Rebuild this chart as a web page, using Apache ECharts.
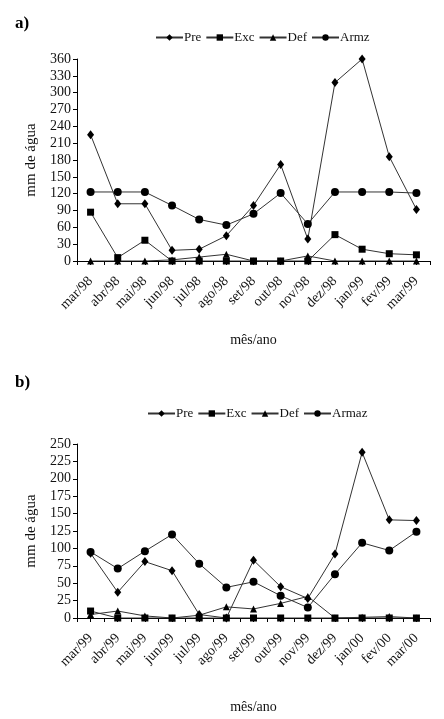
<!DOCTYPE html>
<html>
<head>
<meta charset="utf-8">
<script src="https://cdn.jsdelivr.net/npm/echarts@6/dist/echarts.min.js"></script>
<style>
  html, body { margin: 0; padding: 0; background: #fff; }
  #chart1 { width: 444px; height: 719px; }
</style>
</head>
<body>
<div id="chart1"></div>
<script>
// meses dos dois periodos
var mesesA = ['mar/98', 'abr/98', 'mai/98', 'jun/98', 'jul/98', 'ago/98', 'set/98', 'out/98', 'nov/98', 'dez/98', 'jan/99', 'fev/99', 'mar/99'];
var mesesB = ['mar/99', 'abr/99', 'mai/99', 'jun/99', 'jul/99', 'ago/99', 'set/99', 'out/99', 'nov/99', 'dez/99', 'jan/00', 'fev/00', 'mar/00'];

// a) 1998/99
var preA = [225, 102, 102, 19, 21, 45, 99, 172, 39, 318, 360, 186, 92];
var excA = [87, 6, 37, 0, 0, 0, 0, 0, 0, 47, 21, 13, 11];
var defA = [0, 0, 0, 2, 7, 12, 0, 0, 9, 0, 0, 0, 0];
var armzA = [123, 123, 123, 99, 74, 64, 84, 121, 66, 123, 123, 123, 121];

// b) 1999/00
var preB = [93, 37, 81, 68, 5, 0, 83, 45, 28, 92, 238, 141, 140];
var excB = [10, 0, 0, 0, 0, 0, 0, 0, 0, 0, 0, 0, 0];
var defB = [5, 10, 3, 0, 4, 16, 13, 21, 31, 0, 1, 2, 0];
var armazB = [95, 71, 96, 120, 78, 44, 52, 32, 15, 63, 108, 97, 124];

var fonte = 'Liberation Serif';
var myChart = echarts.init(document.getElementById('chart1'));

function serie(nome, dados, simbolo, tam, grid) {
    return {
        name: nome,
        type: 'line',
        xAxisIndex: grid * 2,
        yAxisIndex: grid,
        data: dados,
        symbol: simbolo,
        symbolSize: tam,
        showAllSymbol: true,
        lineStyle: { color: '#333', width: 1 },
        itemStyle: { color: '#000' },
        z: 3
    };
}

function eixoX(dados, grid, gapNome) {
    return {
        type: 'category',
        gridIndex: grid,
        data: dados,
        boundaryGap: true,
        name: 'mês/ano',
        nameLocation: 'middle',
        nameGap: gapNome,
        nameTextStyle: { fontFamily: fonte, fontSize: 14, color: '#111' },
        axisLine: { lineStyle: { color: '#000', width: 1 } },
        axisTick: { show: false },
        axisLabel: { rotate: 45, margin: 18, interval: 0, fontFamily: fonte, fontSize: 14, color: '#111' }
    };
}

// eixo so para os tracinhos a cada meio mes
function eixoTicks(grid) {
    return {
        type: 'value',
        gridIndex: grid,
        min: 0,
        max: 26,
        interval: 1,
        position: 'bottom',
        axisLine: { show: false },
        axisLabel: { show: false },
        splitLine: { show: false },
        axisTick: { show: true, length: 4, lineStyle: { color: '#000' } }
    };
}

function eixoY(grid, max, passo) {
    return {
        type: 'value',
        gridIndex: grid,
        min: 0,
        max: max,
        interval: passo,
        name: 'mm de água',
        nameLocation: 'middle',
        nameGap: 38,
        nameTextStyle: { fontFamily: fonte, fontSize: 15, color: '#111' },
        axisLine: { show: true, lineStyle: { color: '#000', width: 1 } },
        axisTick: { show: true, length: 4, lineStyle: { color: '#000' } },
        axisLabel: { margin: 6, fontFamily: fonte, fontSize: 14, color: '#111' },
        splitLine: { show: false }
    };
}

function legenda(nomes, esq, topo) {
    return {
        data: nomes,
        left: esq,
        top: topo,
        itemWidth: 27,
        itemHeight: 8,
        itemGap: 4,
        selectedMode: false,
        textStyle: { fontFamily: fonte, fontSize: 13, color: '#111', padding: [0, 0, 0, -4] }
    };
}

var option = {
    backgroundColor: '#fff',
    animation: false,
    title: [
        { text: 'a)', left: 10, top: 10, textStyle: { fontFamily: fonte, fontSize: 17, fontWeight: 'bold', color: '#000' } },
        { text: 'b)', left: 10, top: 369, textStyle: { fontFamily: fonte, fontSize: 17, fontWeight: 'bold', color: '#000' } }
    ],
    legend: [
        legenda(['Pre', 'Exc', 'Def', 'Armz'], 150, 26),
        legenda(['Pre', 'Exc', 'Def', 'Armaz'], 142, 402)
    ],
    grid: [
        { left: 77, right: 14, top: 59, height: 202 },
        { left: 77, right: 14, top: 444, height: 174 }
    ],
    xAxis: [
        eixoX(mesesA, 0, 72),
        eixoTicks(0),
        eixoX(mesesB, 1, 82),
        eixoTicks(1)
    ],
    yAxis: [
        eixoY(0, 360, 30),
        eixoY(1, 250, 25)
    ],
    series: [
        serie('Pre', preA, 'diamond', [7, 9], 0),
        serie('Exc', excA, 'rect', 7, 0),
        serie('Def', defA, 'triangle', 7, 0),
        serie('Armz', armzA, 'circle', 8, 0),
        serie('Pre', preB, 'diamond', [7, 9], 1),
        serie('Exc', excB, 'rect', 7, 1),
        serie('Def', defB, 'triangle', 7, 1),
        serie('Armaz', armazB, 'circle', 8, 1)
    ]
};

myChart.setOption(option);
</script>
</body>
</html>
